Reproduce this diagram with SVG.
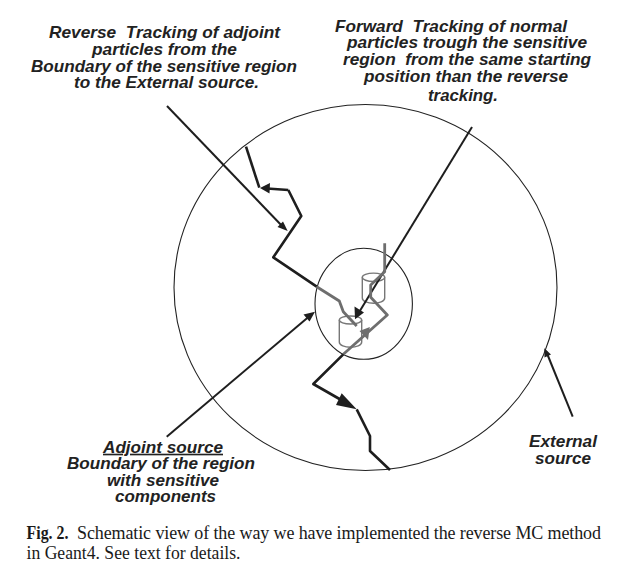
<svg xmlns="http://www.w3.org/2000/svg" width="637" height="579" viewBox="0 0 637 579">
<style>
.l{font-family:"Liberation Sans",Arial,sans-serif;font-weight:700;font-style:italic;font-size:16.500px;fill:#222;white-space:pre}
.c{font-family:"Liberation Serif","Times New Roman",serif;font-size:18px;fill:#1a1a1a}
.o{fill:none;stroke:#222;stroke-width:1.1}
.g{fill:none;stroke:#777;stroke-width:1.4}
.k{fill:none;stroke:#1e1e1e;stroke-width:2.6;stroke-linejoin:round}
.t{fill:none;stroke:#1e1e1e;stroke-width:2}
.y{fill:none;stroke:#6e6e6e;stroke-width:2.8;stroke-linejoin:round}
.a{fill:#1e1e1e}
.b{fill:#6e6e6e}
</style>
<rect width="637" height="579" fill="#fff"/>
<g id="external-source-region"><ellipse class="o" cx="365.500" cy="287.500" rx="191.500" ry="183"/></g>
<g id="sensitive-region"><ellipse class="o" cx="363.700" cy="303.800" rx="48.700" ry="55.500"/></g>
<g id="component-upper"><path class="g" d="M362.300 277.300V298C362.300 305 384.700 305 384.700 298V277.300"/><ellipse class="g" cx="373.500" cy="277.300" rx="11.200" ry="4.200"/></g>
<g id="component-lower"><path class="g" d="M339.300 320V342C339.300 349 361.700 349 361.700 342V320"/><ellipse class="g" cx="350.500" cy="320" rx="11.200" ry="4"/></g>
<g id="connectors">
<path class="t" d="M167 106L284 228"/><path class="a" d="M287.700 231L277.500 227L283 221.500Z"/>
<path class="k" d="M246 146.700L259.300 187.700"/>
<path class="k" d="M288.300 190L267 188.500M288.300 190L301.300 216L273.300 257.300L316.700 286.700"/><path class="a" d="M260 188L270 183L269.500 193.500Z"/>
<path class="y" d="M316.700 286.700L339.300 301L343.300 311.700L356.700 326"/>
<path class="t" d="M472 127L358 314"/><path class="a" d="M355 319.300L354.500 306.500L364 312.500Z"/>
<path class="t" d="M166.700 436.700L312 314"/><path class="a" d="M315 311.700L309.500 321.500L303.500 314.500Z"/>
<path class="t" d="M572.700 416.700L546 351"/><path class="a" d="M544.300 348.300L551 354.500L544.500 357.500Z"/>
<path class="y" d="M384.700 243.300V271.700L370.700 285V297.300L387.300 315L343.300 354.300"/>
<path class="b" d="M369.800 327L368 340L359.500 331Z"/>
<path class="k" d="M343.300 354.300L313.300 384L350 405"/><path class="k" d="M356.700 409.300L370 436V451L390 470"/>
<path class="a" d="M356.700 409.300L341.700 393.300L336 405Z"/>
</g>
<g id="label-reverse"><text class="l" x="49" y="38" textLength="231" lengthAdjust="spacingAndGlyphs">Reverse  Tracking of adjoint</text><text class="l" x="92" y="55" textLength="145" lengthAdjust="spacingAndGlyphs">particles from the</text><text class="l" x="31" y="71.700" textLength="266" lengthAdjust="spacingAndGlyphs">Boundary of the sensitive region</text><text class="l" x="74" y="88" textLength="185" lengthAdjust="spacingAndGlyphs">to the External source.</text></g>
<g id="label-forward"><text class="l" x="335" y="31.700" textLength="232" lengthAdjust="spacingAndGlyphs">Forward  Tracking of normal</text><text class="l" x="347" y="48.300" textLength="240" lengthAdjust="spacingAndGlyphs">particles trough the sensitive</text><text class="l" x="343" y="65" textLength="248" lengthAdjust="spacingAndGlyphs">region  from the same starting</text><text class="l" x="364" y="81.700" textLength="204" lengthAdjust="spacingAndGlyphs">position than the reverse</text><text class="l" x="428" y="100.700" textLength="70" lengthAdjust="spacingAndGlyphs">tracking.</text></g>
<g id="label-adjoint"><text class="l" x="103" y="452.700" textLength="120" lengthAdjust="spacingAndGlyphs" text-decoration="underline">Adjoint source</text><text class="l" x="67" y="469" textLength="188" lengthAdjust="spacingAndGlyphs">Boundary of the region</text><text class="l" x="107" y="485.700" textLength="112" lengthAdjust="spacingAndGlyphs">with sensitive</text><text class="l" x="115" y="502.300" textLength="101" lengthAdjust="spacingAndGlyphs">components</text></g>
<g id="label-external"><text class="l" x="529" y="447.300" textLength="68" lengthAdjust="spacingAndGlyphs">External</text><text class="l" x="535" y="464.300" textLength="56" lengthAdjust="spacingAndGlyphs">source</text></g>
<g id="caption"><text class="c" x="26.500" y="538.500" font-weight="700" textLength="42" lengthAdjust="spacingAndGlyphs">Fig. 2.</text><text class="c" x="77" y="538.500" textLength="524" lengthAdjust="spacing">Schematic view of the way we have implemented the reverse MC method</text><text class="c" x="26.500" y="558.500" textLength="214" lengthAdjust="spacingAndGlyphs">in Geant4. See text for details.</text></g>
</svg>
